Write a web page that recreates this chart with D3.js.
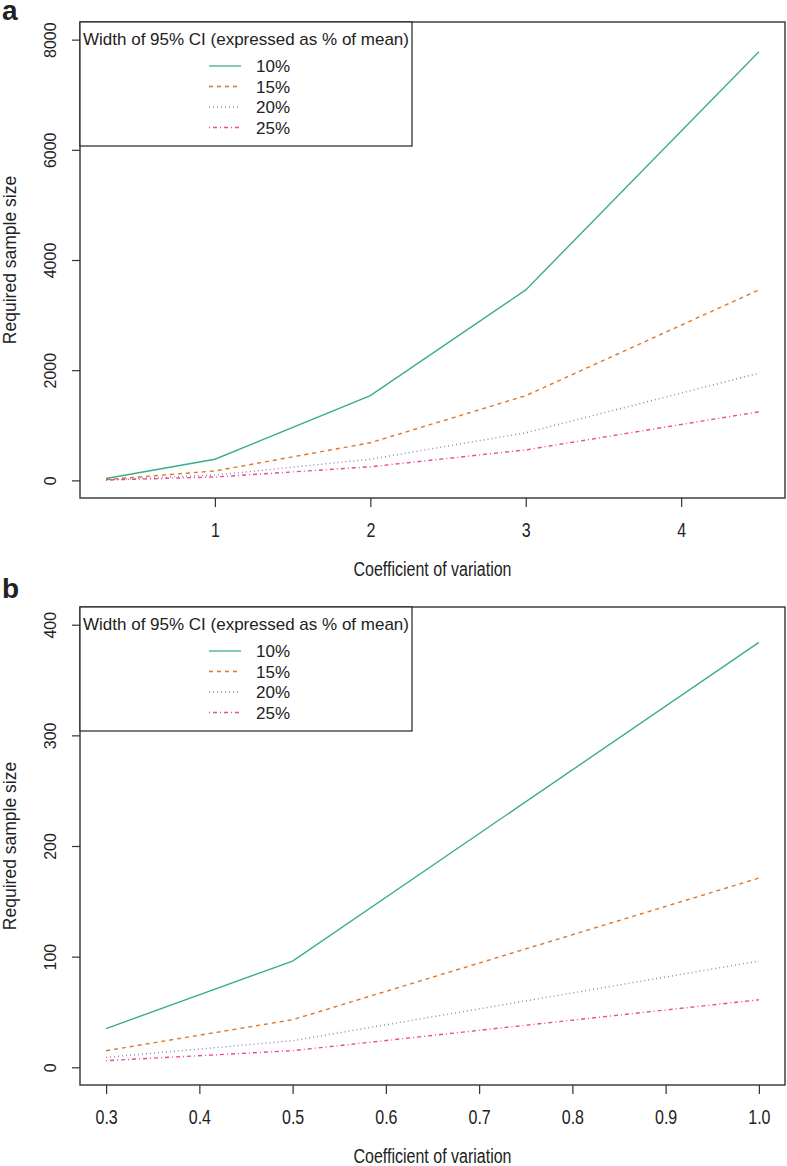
<!DOCTYPE html>
<html>
<head>
<meta charset="utf-8">
<script src="https://cdn.jsdelivr.net/npm/d3@7"></script>
<style>
  html, body { margin: 0; padding: 0; background: #fff; }
  svg { display: block; }
  text { font-family: "Liberation Sans", Arial, sans-serif; fill: #222; }
</style>
</head>
<body>
<svg id="chart" width="787" height="1166"></svg>
<script>
// ---- data ----
const seriesNames = ["10%", "15%", "20%", "25%"];
const colors = ["#1B9E77", "#D95F02", "#7570B3", "#E7298A"];
const dashes = ["", "4,4", "1,3", "1,3,4,3"];

// Panel a
const cvA = [0.3, 1, 2, 3, 4.5];
const a10 = [35, 384, 1537, 3457, 7779];
const a15 = [15, 171, 683, 1537, 3457];
const a20 = [9, 96, 384, 864, 1945];
const a25 = [6, 61, 246, 553, 1245];
const xTicksA = [1, 2, 3, 4];
const yTicksA = [0, 2000, 4000, 6000, 8000];

// Panel b
const cvB = [0.3, 0.5, 1.0];
const b10 = [35, 96, 384];
const b15 = [15, 43, 171];
const b20 = [9, 24, 96];
const b25 = [6, 15, 61];
const xTicksB = [0.3, 0.4, 0.5, 0.6, 0.7, 0.8, 0.9, 1.0];
const yTicksB = [0, 100, 200, 300, 400];

const legendTitle = "Width of 95% CI (expressed as % of mean)";
const xTitle = "Coefficient of variation";
const yTitle = "Required sample size";

const svg = d3.select("#chart");
const NARROW = 0.8;

function panel(opts) {
  const {top, bottom, label, labelY, xs, ys, xDomain, yDomain, xTicks, yTicks, xFmt} = opts;
  const left = 80, right = 785;
  // R-style 4% extension
  const xr = xDomain[1] - xDomain[0], yr = yDomain[1] - yDomain[0];
  const x = d3.scaleLinear().domain([xDomain[0] - 0.04 * xr, xDomain[1] + 0.04 * xr]).range([left, right]);
  const y = d3.scaleLinear().domain([yDomain[0] - 0.04 * yr, yDomain[1] + 0.04 * yr]).range([bottom, top]);
  const g = svg.append("g");

  // lines
  const line = d3.line().x(d => x(d[0])).y(d => y(d[1]));
  ys.forEach((vals, i) => {
    g.append("path")
      .datum(xs.map((v, j) => [v, vals[j]]))
      .attr("d", line)
      .attr("fill", "none")
      .attr("stroke", colors[i])
      .attr("stroke-opacity", 0.85)
      .attr("stroke-width", 1.4)
      .attr("stroke-dasharray", dashes[i] || null);
  });

  // x axis
  const xAxis = d3.axisBottom(x).tickValues(xTicks).tickSize(9).tickPadding(0).tickFormat(xFmt);
  const gx = g.append("g").attr("transform", `translate(0,${bottom})`).call(xAxis);
  gx.select(".domain").remove();
  gx.selectAll(".tick line").attr("stroke", "#333").attr("stroke-width", 1.2);
  gx.selectAll(".tick text")
    .attr("y", null).attr("dy", null)
    .attr("transform", `translate(0,39) scale(${NARROW},1)`)
    .style("font-size", "20px").attr("fill", "#222");

  // y axis
  const yAxis = d3.axisLeft(y).tickValues(yTicks).tickSize(8).tickFormat(d3.format("d"));
  const gy = g.append("g").attr("transform", `translate(${left},0)`).call(yAxis);
  gy.select(".domain").remove();
  gy.selectAll(".tick line").attr("stroke", "#333").attr("stroke-width", 1.2);
  gy.selectAll(".tick text")
    .attr("x", null).attr("dy", null)
    .attr("transform", "translate(-24,0) rotate(-90)")
    .attr("text-anchor", "middle")
    .style("font-size", "16px").attr("fill", "#222");

  // box
  g.append("rect").attr("x", left).attr("y", top).attr("width", right - left).attr("height", bottom - top)
    .attr("fill", "none").attr("stroke", "#333").attr("stroke-width", 1.4);

  // titles
  g.append("text").attr("transform", `translate(${(left + right) / 2},${bottom + 78}) scale(${NARROW},1)`)
    .attr("text-anchor", "middle").style("font-size", "20px").text(xTitle);
  g.append("text").attr("transform", `translate(16,${(top + bottom) / 2}) rotate(-90)`)
    .attr("text-anchor", "middle").style("font-size", "17.5px").text(yTitle);

  // panel label
  svg.append("text").attr("x", 2).attr("y", labelY).style("font-size", "28px").style("font-weight", "bold")
    .attr("fill", "#000").text(label);

  // legend
  const lg = g.append("g").attr("transform", `translate(${left},${top})`);
  lg.append("rect").attr("x", 0).attr("y", 0).attr("width", 332).attr("height", 124)
    .attr("fill", "#fff").attr("stroke", "#222").attr("stroke-width", 1.2);
  lg.append("text").attr("x", 166).attr("y", 23).attr("text-anchor", "middle")
    .style("font-size", "17px").text(legendTitle);
  seriesNames.forEach((s, i) => {
    const yy = 44 + i * 20.5;
    lg.append("line").attr("x1", 129).attr("x2", 161).attr("y1", yy).attr("y2", yy)
      .attr("stroke", colors[i]).attr("stroke-opacity", 0.85).attr("stroke-width", 1.3)
      .attr("stroke-dasharray", dashes[i] || null);
    lg.append("text").attr("x", 176).attr("y", yy + 6).style("font-size", "17px").text(s);
  });
}

panel({top: 22, bottom: 498, label: "a", labelY: 20, xs: cvA, ys: [a10, a15, a20, a25],
  xDomain: [0.3, 4.5], yDomain: [0, 8000], xTicks: xTicksA, yTicks: yTicksA, xFmt: d3.format("d")});
panel({top: 607, bottom: 1085, label: "b", labelY: 598, xs: cvB, ys: [b10, b15, b20, b25],
  xDomain: [0.3, 1.0], yDomain: [0, 400], xTicks: xTicksB, yTicks: yTicksB, xFmt: d3.format(".1f")});
</script>
</body>
</html>
